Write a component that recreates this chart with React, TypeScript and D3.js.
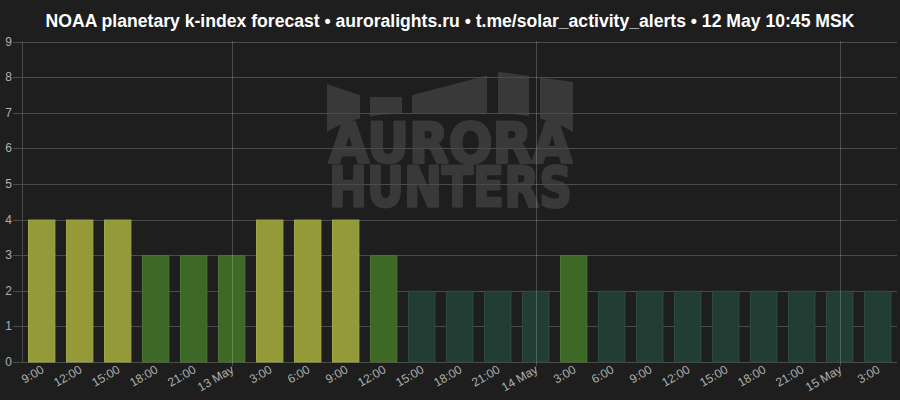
import React from "react";
import * as d3 from "d3";

const TITLE = "NOAA planetary k-index forecast • auroralights.ru • t.me/solar_activity_alerts • 12 May 10:45 MSK";
const LABELS = ["9:00","12:00","15:00","18:00","21:00","13 May","3:00","6:00","9:00","12:00","15:00","18:00","21:00","14 May","3:00","6:00","9:00","12:00","15:00","18:00","21:00","15 May","3:00"];
const KP = [4,4,4,3,3,3,4,4,4,3,2,2,2,2,3,2,2,2,2,2,2,2,2];
const Y_TICKS = [0,1,2,3,4,5,6,7,8,9];
const DAY_MARKS = ["13 May","14 May","15 May"];

const W = 900, H = 400;
const BG = "#1e1e1e";
const GRID = "#4b4b4b";

function barColor(v: number) {
  if (v >= 4) return { fill: "#959a39", stroke: "#a2a74a" };
  if (v >= 3) return { fill: "#3e6825", stroke: "#4d7536" };
  return { fill: "#213d34", stroke: "#2f4c42" };
}

export default function App() {
  const ids = LABELS.map((_, i) => String(i));
  const x = d3.scaleBand<string>().domain(ids).range([22.7, 896.7]).paddingInner(0.28).paddingOuter(0.14);
  const y = d3.scaleLinear().domain([0, 9]).range([362, 41.5]);
  const font = "'Liberation Sans', Arial, sans-serif";

  // watermark columns (aurora curtain)
  const wmCols: [number, number][] = [[327, 360], [370, 402], [412, 487], [498, 529], [540, 573]];
  const topY = d3.scaleLinear().domain([327, 365, 405, 500, 573]).range([84, 97, 97, 72, 82]);
  const botY = (xx: number) => {
    const t = (xx - 450) / 123;
    return 113 + 19 * t * t * t * t;
  };
  const colPath = (a: number, b: number) => {
    const pts: [number, number][] = [];
    for (let xx = a; xx <= b; xx += 1) pts.push([xx, topY(xx)]);
    for (let xx = b; xx >= a; xx -= 1) pts.push([xx, botY(xx)]);
    return d3.line()(pts) + "Z";
  };

  return (
    <svg width={W} height={H} style={{ display: "block", position: "absolute", left: 0, top: 0 }}>
      <rect width={W} height={H} fill={BG} />
      <text x={450} y={27} textAnchor="middle" fill="#ffffff" fontFamily={font} fontWeight="bold" fontSize={17.6}>{TITLE}</text>

      {/* watermark */}
      <g fill="#393939">
        {wmCols.map(([a, b], i) => <path key={i} d={colPath(a, b)} />)}
        <g stroke="#393939" strokeWidth={2.2} strokeLinejoin="round">
          <text transform="translate(329,162) scale(1,1.3)" fontFamily="'DejaVu Sans', sans-serif" fontWeight="bold" fontSize={43} textLength={243} lengthAdjust="spacingAndGlyphs">AURORA</text>
          <text transform="translate(329,206) scale(1,1.3)" fontFamily="'DejaVu Sans', sans-serif" fontWeight="bold" fontSize={43} textLength={243} lengthAdjust="spacingAndGlyphs">HUNTERS</text>
        </g>
      </g>

      {/* horizontal grid */}
      {Y_TICKS.map(t => (
        <g key={t}>
          <line x1={13} x2={897} y1={Math.round(y(t)) + 0.5} y2={Math.round(y(t)) + 0.5} stroke={GRID} />
          <text x={12} y={y(t) + 4} textAnchor="end" fill="#b0b0b0" fontFamily={font} fontSize={12}>{t}</text>
        </g>
      ))}
      <line x1={22.5} x2={22.5} y1={41} y2={362} stroke={GRID} />

      {/* bars */}
      {KP.map((v, i) => {
        const c = barColor(v);
        const bx = x(String(i))!;
        return <rect key={i} x={bx + 0.5} y={y(v) + 0.5} width={x.bandwidth() - 1} height={y(0) - y(v) - 0.5} fill={c.fill} stroke={c.stroke} strokeWidth={1} />;
      })}

      {/* day lines */}
      {LABELS.map((l, i) => DAY_MARKS.includes(l) ? (
        <line key={i} x1={Math.round(x(String(i))! + x.bandwidth() / 2) + 0.5} x2={Math.round(x(String(i))! + x.bandwidth() / 2) + 0.5} y1={41} y2={366} stroke="rgba(255,255,255,0.2)" />
      ) : null)}

      {/* x labels */}
      {LABELS.map((l, i) => {
        const cx = x(String(i))! + x.bandwidth() / 2 + 3;
        return (
          <text key={i} transform={`translate(${cx},${372}) rotate(-30)`} textAnchor="end" fill="#b0b0b0" fontFamily={font} fontSize={12}>{l}</text>
        );
      })}
    </svg>
  );
}
